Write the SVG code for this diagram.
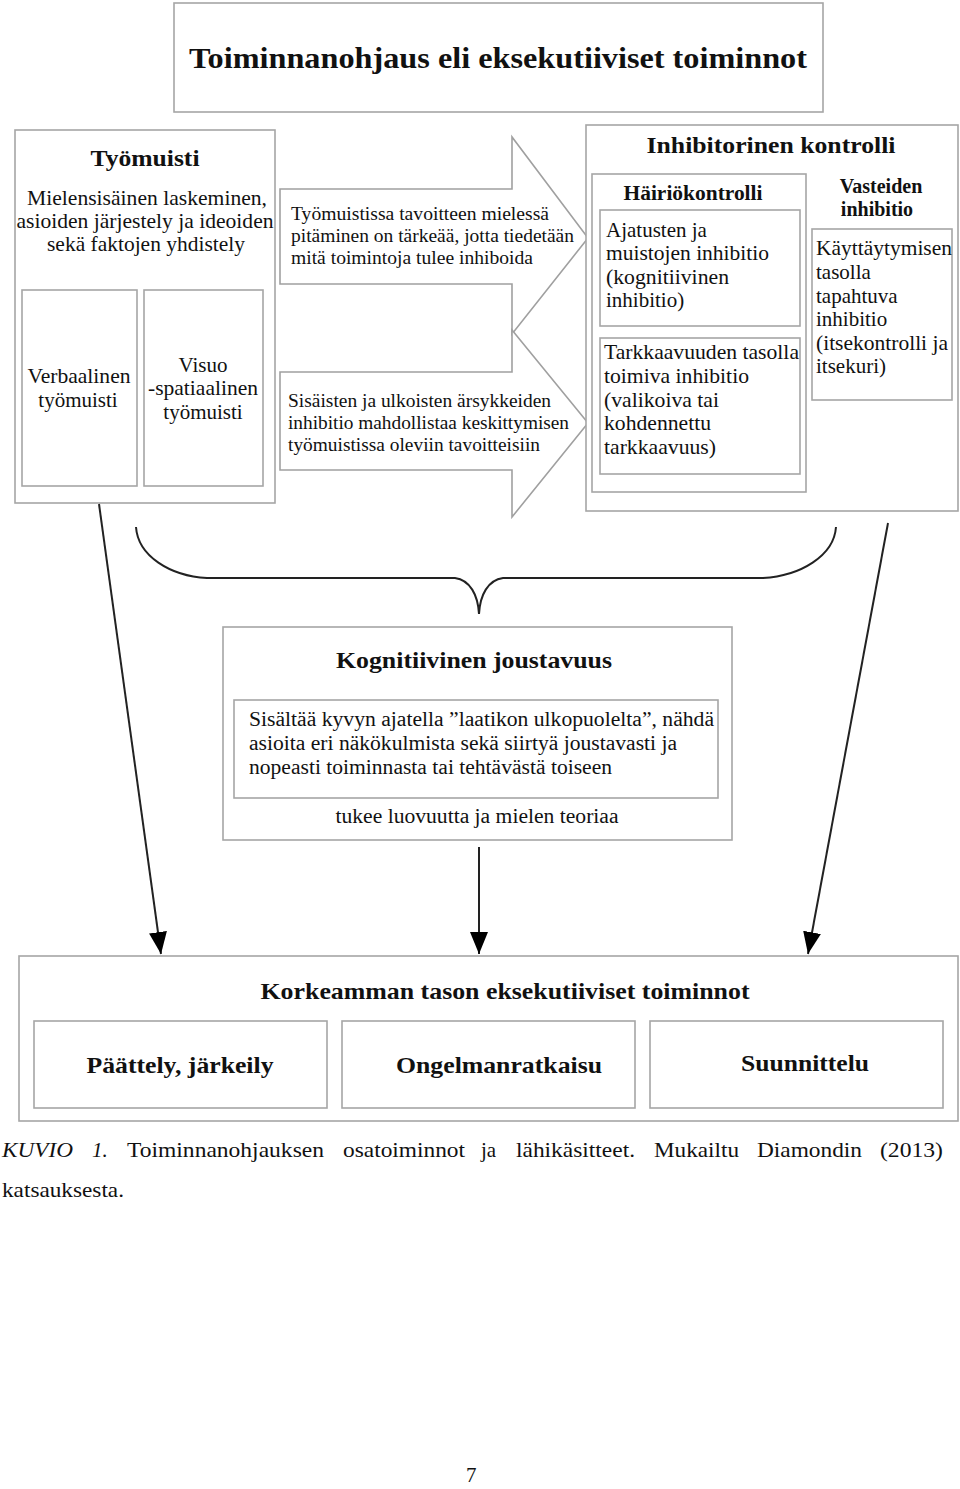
<svg xmlns="http://www.w3.org/2000/svg" width="960" height="1489" viewBox="0 0 960 1489">
<defs>
<style>
.box{fill:#fff;stroke:#a6a6a6;stroke-width:1.6}
.arr{fill:#fff;stroke:#a0a0a0;stroke-width:1.6}
.t{font-family:"Liberation Serif","Times New Roman",serif;fill:#111}
.b{font-weight:bold}
.s21{font-size:21px}
.s20{font-size:20px}
.s19{font-size:19px}
.mid{text-anchor:middle}
.line{stroke:#222;stroke-width:2;fill:none}
</style>
<marker id="ah" viewBox="0 0 22 18" refX="22" refY="9" markerWidth="22" markerHeight="18" markerUnits="userSpaceOnUse" orient="auto">
<path d="M0,0 L22,9 L0,18 z" fill="#000"/>
</marker>
</defs>
<rect width="960" height="1489" fill="#fff"/>

<g id="title">
<rect class="box" x="174" y="3" width="649" height="109"/>
<text class="t b mid" x="498" y="68" font-size="30" textLength="618" lengthAdjust="spacingAndGlyphs">Toiminnanohjaus eli eksekutiiviset toiminnot</text>
</g>

<g id="tyomuisti">
<rect class="box" x="15" y="130" width="260" height="373"/>
<text class="t b mid" x="145" y="166" font-size="24" textLength="109" lengthAdjust="spacingAndGlyphs">Työmuisti</text>
<text class="t s21 mid" x="147" y="205" textLength="240" lengthAdjust="spacingAndGlyphs">Mielensisäinen laskeminen,</text>
<text class="t s21 mid" x="145" y="228" textLength="257" lengthAdjust="spacingAndGlyphs">asioiden järjestely ja ideoiden</text>
<text class="t s21 mid" x="146" y="251" textLength="198" lengthAdjust="spacingAndGlyphs">sekä faktojen yhdistely</text>
</g>
<g id="verbaalinen">
<rect class="box" x="22" y="290" width="115" height="196"/>
<text class="t s21 mid" x="79" y="383" textLength="103" lengthAdjust="spacingAndGlyphs">Verbaalinen</text>
<text class="t s21 mid" x="78" y="407">työmuisti</text>
</g>
<g id="visuo">
<rect class="box" x="144" y="290" width="119" height="196"/>
<text class="t s21 mid" x="203" y="372">Visuo</text>
<text class="t s21 mid" x="203" y="395" textLength="110" lengthAdjust="spacingAndGlyphs">-spatiaalinen</text>
<text class="t s21 mid" x="203" y="419">työmuisti</text>
</g>

<g id="arrow1">
<path class="arr" d="M280,189 L512,189 L512,137 L588,238 L512,334 L512,284 L280,284 Z"/>
<text class="t s19" x="291" y="220" textLength="258" lengthAdjust="spacingAndGlyphs">Työmuistissa tavoitteen mielessä</text>
<text class="t s19" x="291" y="242" textLength="283" lengthAdjust="spacingAndGlyphs">pitäminen on tärkeää, jotta tiedetään</text>
<text class="t s19" x="291" y="264" textLength="242" lengthAdjust="spacingAndGlyphs">mitä toimintoja tulee inhiboida</text>
</g>
<g id="arrow2">
<path class="arr" d="M280,372 L512,372 L512,330 L588,423 L512,517 L512,470 L280,470 Z"/>
<text class="t s19" x="288" y="407" textLength="263" lengthAdjust="spacingAndGlyphs">Sisäisten ja ulkoisten ärsykkeiden</text>
<text class="t s19" x="288" y="429" textLength="281" lengthAdjust="spacingAndGlyphs">inhibitio mahdollistaa keskittymisen</text>
<text class="t s19" x="288" y="451" textLength="252" lengthAdjust="spacingAndGlyphs">työmuistissa oleviin tavoitteisiin</text>
</g>

<g id="inhibitorinen">
<rect class="box" x="586" y="125" width="372" height="386"/>
<text class="t b mid" x="771" y="153" font-size="23" textLength="249" lengthAdjust="spacingAndGlyphs">Inhibitorinen kontrolli</text>
</g>
<g id="hairiokontrolli">
<rect class="box" x="592" y="174" width="214" height="318"/>
<text class="t b mid" x="693" y="200" font-size="20" textLength="139" lengthAdjust="spacingAndGlyphs">Häiriökontrolli</text>
</g>
<g id="ajatusten">
<rect class="box" x="600" y="210" width="200" height="116"/>
<text class="t s21" x="606" y="237">Ajatusten ja</text>
<text class="t s21" x="606" y="260" textLength="163" lengthAdjust="spacingAndGlyphs">muistojen inhibitio</text>
<text class="t s21" x="606" y="284" textLength="123" lengthAdjust="spacingAndGlyphs">(kognitiivinen</text>
<text class="t s21" x="606" y="307">inhibitio)</text>
</g>
<g id="tarkkaavuuden">
<rect class="box" x="600" y="338" width="200" height="136"/>
<text class="t s21" x="604" y="359" textLength="195" lengthAdjust="spacingAndGlyphs">Tarkkaavuuden tasolla</text>
<text class="t s21" x="604" y="383" textLength="145" lengthAdjust="spacingAndGlyphs">toimiva inhibitio</text>
<text class="t s21" x="604" y="407" textLength="115" lengthAdjust="spacingAndGlyphs">(valikoiva tai</text>
<text class="t s21" x="604" y="430" textLength="107" lengthAdjust="spacingAndGlyphs">kohdennettu</text>
<text class="t s21" x="604" y="454" textLength="112" lengthAdjust="spacingAndGlyphs">tarkkaavuus)</text>
</g>
<g id="vasteiden">
<text class="t b mid" x="881" y="193" font-size="20">Vasteiden</text>
<text class="t b mid" x="877" y="216" font-size="20">inhibitio</text>
<rect class="box" x="812" y="229" width="140" height="171"/>
<text class="t s21" x="816" y="255" textLength="136" lengthAdjust="spacingAndGlyphs">Käyttäytymisen</text>
<text class="t s21" x="816" y="279">tasolla</text>
<text class="t s21" x="816" y="303">tapahtuva</text>
<text class="t s21" x="816" y="326">inhibitio</text>
<text class="t s21" x="816" y="350" textLength="132" lengthAdjust="spacingAndGlyphs">(itsekontrolli ja</text>
<text class="t s21" x="816" y="373">itsekuri)</text>
</g>

<g id="kognitiivinen">
<rect class="box" x="223" y="627" width="509" height="213"/>
<text class="t b mid" x="474" y="668" font-size="23" textLength="276" lengthAdjust="spacingAndGlyphs">Kognitiivinen joustavuus</text>
<rect class="box" x="234" y="700" width="484" height="98"/>
<text class="t s20" x="249" y="726" textLength="465" lengthAdjust="spacingAndGlyphs">Sisältää kyvyn ajatella ”laatikon ulkopuolelta”, nähdä</text>
<text class="t s20" x="249" y="750" textLength="428" lengthAdjust="spacingAndGlyphs">asioita eri näkökulmista sekä siirtyä joustavasti ja</text>
<text class="t s20" x="249" y="774" textLength="363" lengthAdjust="spacingAndGlyphs">nopeasti toiminnasta tai tehtävästä toiseen</text>
<text class="t s20 mid" x="477" y="823" textLength="283" lengthAdjust="spacingAndGlyphs">tukee luovuutta ja mielen teoriaa</text>
</g>

<g id="korkeamman">
<rect class="box" x="19" y="956" width="939" height="165"/>
<text class="t b mid" x="505" y="999" font-size="24" textLength="489" lengthAdjust="spacingAndGlyphs">Korkeamman tason eksekutiiviset toiminnot</text>
</g>
<g id="paattely">
<rect class="box" x="34" y="1021" width="293" height="87"/>
<text class="t b mid" x="180" y="1073" font-size="24" textLength="187" lengthAdjust="spacingAndGlyphs">Päättely, järkeily</text>
</g>
<g id="ongelmanratkaisu">
<rect class="box" x="342" y="1021" width="293" height="87"/>
<text class="t b mid" x="499" y="1073" font-size="24" textLength="206" lengthAdjust="spacingAndGlyphs">Ongelmanratkaisu</text>
</g>
<g id="suunnittelu">
<rect class="box" x="650" y="1021" width="293" height="87"/>
<text class="t b mid" x="805" y="1071" font-size="24" textLength="128" lengthAdjust="spacingAndGlyphs">Suunnittelu</text>
</g>

<g id="connectors">
<path class="line" d="M136,527 C138,556 170,576 207,578 L455,578 C470,580 478,595 479,614 C480,595 488,580 503,578 L763,578 C800,576 834,556 836,527"/>
<line x1="99" y1="504" x2="161" y2="954" stroke="#222" stroke-width="2" marker-end="url(#ah)"/>
<line x1="888" y1="523" x2="808" y2="954" stroke="#222" stroke-width="2" marker-end="url(#ah)"/>
<line x1="479" y1="847" x2="479" y2="954" stroke="#222" stroke-width="2" marker-end="url(#ah)"/>
</g>

<g id="caption" class="t" font-size="21">
<text x="2" y="1157" font-style="italic" textLength="71" lengthAdjust="spacingAndGlyphs">KUVIO</text>
<text x="92" y="1157" font-style="italic">1.</text>
<text x="127" y="1157" textLength="197" lengthAdjust="spacingAndGlyphs">Toiminnanohjauksen</text>
<text x="343" y="1157" textLength="122" lengthAdjust="spacingAndGlyphs">osatoiminnot</text>
<text x="481" y="1157">ja</text>
<text x="516" y="1157" textLength="119" lengthAdjust="spacingAndGlyphs">lähikäsitteet.</text>
<text x="654" y="1157" textLength="85" lengthAdjust="spacingAndGlyphs">Mukailtu</text>
<text x="757" y="1157" textLength="105" lengthAdjust="spacingAndGlyphs">Diamondin</text>
<text x="880" y="1157" textLength="63" lengthAdjust="spacingAndGlyphs">(2013)</text>
<text x="2" y="1197" textLength="122" lengthAdjust="spacingAndGlyphs">katsauksesta.</text>
<text x="466" y="1482">7</text>
</g>
</svg>
